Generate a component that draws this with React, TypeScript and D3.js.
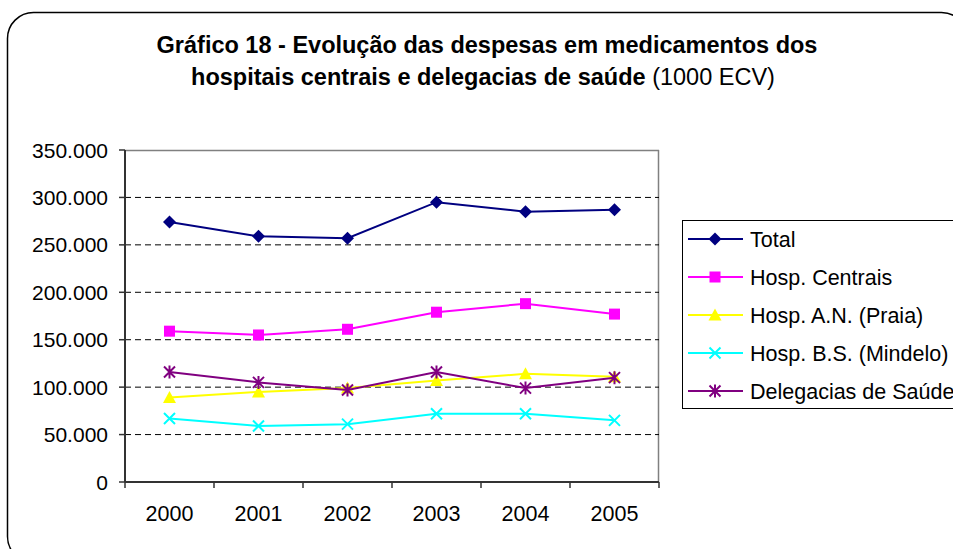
import * as d3 from "d3";

// Chart data (values in 1000 ECV)
const years = ["2000", "2001", "2002", "2003", "2004", "2005"];
const total = [274000, 259000, 257000, 295000, 285000, 287000];
const hospCentrais = [159000, 155000, 161000, 179000, 188000, 177000];
const hospPraia = [89000, 95000, 99000, 107000, 114000, 111000];
const hospMindelo = [67000, 59000, 61000, 72000, 72000, 65000];
const delegacias = [116000, 105000, 97000, 116000, 99000, 110000];
const yTicks = [0, 50000, 100000, 150000, 200000, 250000, 300000, 350000];

const seriesNames = [
  "Total",
  "Hosp. Centrais",
  "Hosp. A.N. (Praia)",
  "Hosp. B.S. (Mindelo)",
  "Delegacias de Saúde",
];
const seriesValues = [total, hospCentrais, hospPraia, hospMindelo, delegacias];
const seriesColors = ["#000080", "#FF00FF", "#FFFF00", "#00FFFF", "#800080"];
const seriesMarkers = ["diamond", "square", "triangle", "x", "star"];

const FONT = "'Liberation Sans', Arial, sans-serif";

const ptFormat = d3.formatLocale({
  decimal: ",",
  thousands: ".",
  grouping: [3],
  currency: ["", ""],
}).format(",d");

function Marker({ kind, x, y, color }: { kind: string; x: number; y: number; color: string }) {
  const s = 5.5;
  if (kind === "diamond") {
    return <path d={`M${x},${y - s - 1}L${x + s + 1},${y}L${x},${y + s + 1}L${x - s - 1},${y}Z`} fill={color} />;
  }
  if (kind === "square") {
    return <rect x={x - s} y={y - s} width={s * 2} height={s * 2} fill={color} />;
  }
  if (kind === "triangle") {
    return <path d={`M${x},${y - s - 1}L${x + s + 1},${y + s}L${x - s - 1},${y + s}Z`} fill={color} />;
  }
  if (kind === "x") {
    return (
      <path
        d={`M${x - s},${y - s}L${x + s},${y + s}M${x - s},${y + s}L${x + s},${y - s}`}
        stroke={color}
        strokeWidth={2}
      />
    );
  }
  // asterisk
  return (
    <path
      d={`M${x - s},${y - s}L${x + s},${y + s}M${x - s},${y + s}L${x + s},${y - s}M${x},${y - s - 1}L${x},${y + s + 1}`}
      stroke={color}
      strokeWidth={2}
    />
  );
}

export default function App() {
  const width = 953;
  const height = 549;
  const plot = { left: 125, right: 659, top: 150, bottom: 482 };

  const x = d3.scaleBand<string>().domain(years).range([plot.left, plot.right]).padding(0);
  const y = d3.scaleLinear().domain([0, 350000]).range([plot.bottom, plot.top]);
  const cx = (yr: string) => (x(yr) as number) + x.bandwidth() / 2;

  const line = d3
    .line<number>()
    .x((_, i) => cx(years[i]))
    .y((d) => y(d));

  const legendX = 682;
  const legendTop = 220;
  const legendStep = 38;

  return (
    <svg
      width={width}
      height={height}
      style={{ position: "absolute", left: 0, top: 0, fontFamily: FONT }}
    >
      <rect x={0} y={0} width={width} height={height} fill="#fff" />
      {/* outer chart border */}
      <rect x={7.5} y={12.5} width={960} height={550} rx={26} ry={26} fill="none" stroke="#000" strokeWidth={1.5} />

      {/* title */}
      <text x={487} y={53} textAnchor="middle" fontSize={23.5} fontWeight="bold" fill="#000">
        Gráfico 18 - Evolução das despesas em medicamentos dos
      </text>
      <text x={483} y={85} textAnchor="middle" fontSize={23.5} fill="#000">
        <tspan fontWeight="bold">hospitais centrais e delegacias de saúde</tspan>
        <tspan> (1000 ECV)</tspan>
      </text>

      {/* plot frame */}
      <line x1={plot.left} x2={plot.right} y1={plot.top + 0.5} y2={plot.top + 0.5} stroke="#808080" strokeWidth={1.5} />
      <line x1={plot.right - 0.5} x2={plot.right - 0.5} y1={plot.top} y2={plot.bottom} stroke="#808080" strokeWidth={1.5} />

      {/* grid lines */}
      {yTicks
        .filter((t) => t > 0 && t < 350000)
        .map((t) => (
          <line
            key={t}
            x1={plot.left}
            x2={plot.right}
            y1={y(t)}
            y2={y(t)}
            stroke="#000"
            strokeWidth={1}
            strokeDasharray="6,4"
          />
        ))}

      {/* y axis */}
      <line x1={plot.left} x2={plot.left} y1={plot.top} y2={plot.bottom} stroke="#333" strokeWidth={2} />
      {yTicks.map((t) => (
        <g key={t}>
          <line x1={plot.left - 6} x2={plot.left} y1={y(t)} y2={y(t)} stroke="#333" strokeWidth={1.5} />
          <text x={plot.left - 17} y={y(t)} dy="0.36em" textAnchor="end" fontSize={21} fill="#000">
            {ptFormat(t)}
          </text>
        </g>
      ))}

      {/* x axis */}
      <line x1={plot.left} x2={plot.right} y1={plot.bottom} y2={plot.bottom} stroke="#333" strokeWidth={2} />
      {[...years.map((yr) => x(yr) as number), plot.right].map((px, i) => (
        <line key={i} x1={px} x2={px} y1={plot.bottom} y2={plot.bottom + 6} stroke="#333" strokeWidth={1.5} />
      ))}
      {years.map((yr) => (
        <text key={yr} x={cx(yr)} y={521} textAnchor="middle" fontSize={21.5} fill="#000">
          {yr}
        </text>
      ))}

      {/* series */}
      {seriesValues.map((vals, si) => (
        <g key={si}>
          <path d={line(vals) || ""} fill="none" stroke={seriesColors[si]} strokeWidth={2} />
          {vals.map((v, i) => (
            <Marker key={i} kind={seriesMarkers[si]} x={cx(years[i])} y={y(v)} color={seriesColors[si]} />
          ))}
        </g>
      ))}

      {/* legend */}
      <rect x={legendX + 0.5} y={legendTop + 0.5} width={300} height={188} fill="#fff" stroke="#000" strokeWidth={1} />
      {seriesNames.map((name, i) => {
        const ly = legendTop + 19 + i * legendStep;
        return (
          <g key={name}>
            <line x1={688} x2={743} y1={ly} y2={ly} stroke={seriesColors[i]} strokeWidth={2} />
            <Marker kind={seriesMarkers[i]} x={715} y={ly} color={seriesColors[i]} />
            <text x={750} y={ly} dy="0.36em" fontSize={21.5} fill="#000">
              {name}
            </text>
          </g>
        );
      })}
    </svg>
  );
}
